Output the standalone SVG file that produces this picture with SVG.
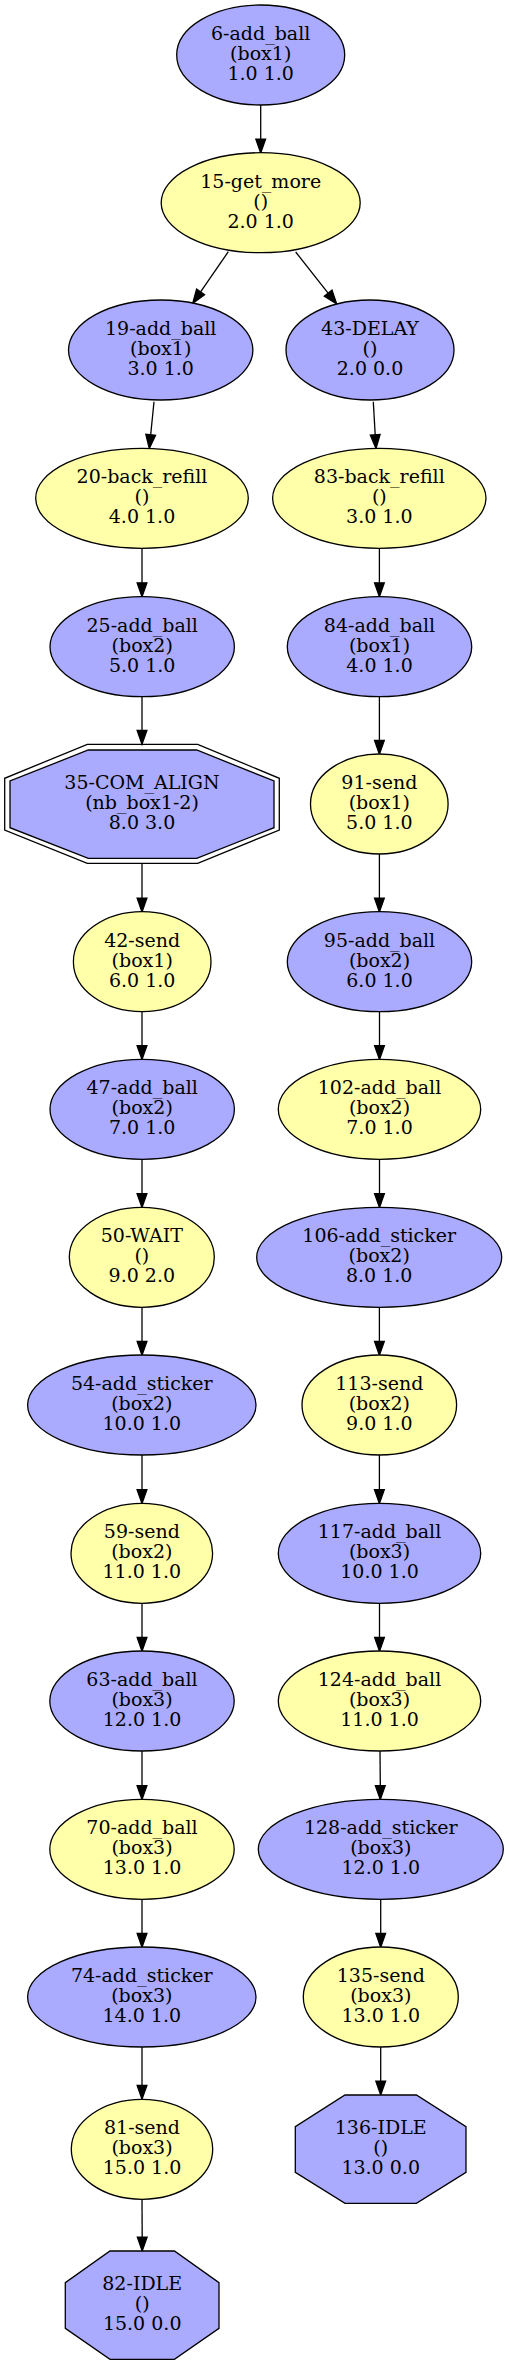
<svg xmlns="http://www.w3.org/2000/svg" width="509" height="2365" viewBox="0 0 509 2365">
<style>
.b{fill:#aaaaff;stroke:#000;stroke-width:1.3}
.y{fill:#ffffaa;stroke:#000;stroke-width:1.3}
.o{fill:none;stroke:#000;stroke-width:1.3}
text{font-family:"DejaVu Serif",serif;font-size:19px;text-anchor:middle;fill:#000}
#edges line{stroke:#000;stroke-width:1.3}
#edges polygon{fill:#000;stroke:#000;stroke-width:1.3}
</style>
<rect width="509" height="2365" fill="#fff"/>
<g id="edges">
<line x1="260.7" y1="105" x2="260.7" y2="139.1"/><polygon points="255.8,139.1 260.7,153 265.6,139.1"/>
<line x1="228.3" y1="251.7" x2="200.6" y2="291.9"/><polygon points="204.6,294.7 192.7,303.3 196.6,289.1"/>
<line x1="295.7" y1="252" x2="328.1" y2="293.1"/><polygon points="324.3,296.1 336.7,304 332.0,290.0"/>
<line x1="154" y1="401.7" x2="150.7" y2="434.8"/><polygon points="155.6,435.3 149.3,448.6 145.8,434.3"/>
<line x1="373.3" y1="401.7" x2="375.2" y2="434.7"/><polygon points="370.3,435.0 376,448.6 380.1,434.4"/>
<line x1="142" y1="548" x2="142" y2="582.8"/><polygon points="137.1,582.8 142,596.7 146.9,582.8"/>
<line x1="379.4" y1="548" x2="379.4" y2="582.8"/><polygon points="374.5,582.8 379.4,596.7 384.3,582.8"/>
<line x1="142" y1="696.7" x2="142" y2="730.4"/><polygon points="137.1,730.4 142,744.3 146.9,730.4"/>
<line x1="379.4" y1="696.7" x2="379.4" y2="740.3"/><polygon points="374.5,740.3 379.4,754.2 384.3,740.3"/>
<line x1="142" y1="863.3" x2="142" y2="898.1"/><polygon points="137.1,898.1 142,912 146.9,898.1"/>
<line x1="379.4" y1="853.8" x2="379.4" y2="898.1"/><polygon points="374.5,898.1 379.4,912 384.3,898.1"/>
<line x1="142" y1="1011.4" x2="142" y2="1045.7"/><polygon points="137.1,1045.7 142,1059.6 146.9,1045.7"/>
<line x1="379.5" y1="1011.4" x2="379.5" y2="1045.7"/><polygon points="374.6,1045.7 379.5,1059.6 384.4,1045.7"/>
<line x1="142" y1="1159" x2="142" y2="1193.7"/><polygon points="137.1,1193.7 142,1207.6 146.9,1193.7"/>
<line x1="379.5" y1="1159" x2="379.5" y2="1193.7"/><polygon points="374.6,1193.7 379.5,1207.6 384.4,1193.7"/>
<line x1="142" y1="1307" x2="142" y2="1341.4"/><polygon points="137.1,1341.4 142,1355.3 146.9,1341.4"/>
<line x1="379.4" y1="1307" x2="379.4" y2="1341.4"/><polygon points="374.5,1341.4 379.4,1355.3 384.3,1341.4"/>
<line x1="142" y1="1454.7" x2="142" y2="1489.7"/><polygon points="137.1,1489.7 142,1503.6 146.9,1489.7"/>
<line x1="379.4" y1="1454.7" x2="379.4" y2="1489.7"/><polygon points="374.5,1489.7 379.4,1503.6 384.3,1489.7"/>
<line x1="142" y1="1603" x2="142" y2="1637.4"/><polygon points="137.1,1637.4 142,1651.3 146.9,1637.4"/>
<line x1="379.5" y1="1603" x2="379.5" y2="1637.4"/><polygon points="374.6,1637.4 379.5,1651.3 384.4,1637.4"/>
<line x1="142" y1="1750.7" x2="142" y2="1785.7"/><polygon points="137.1,1785.7 142,1799.6 146.9,1785.7"/>
<line x1="380" y1="1750.7" x2="380.3" y2="1785.7"/><polygon points="375.4,1785.7 380.3,1799.6 385.2,1785.7"/>
<line x1="142" y1="1899" x2="142" y2="1933.4"/><polygon points="137.1,1933.4 142,1947.3 146.9,1933.4"/>
<line x1="380.7" y1="1899" x2="380.7" y2="1933.4"/><polygon points="375.8,1933.4 380.7,1947.3 385.6,1933.4"/>
<line x1="142" y1="2046.7" x2="142" y2="2085.4"/><polygon points="137.1,2085.4 142,2099.3 146.9,2085.4"/>
<line x1="380.7" y1="2046.7" x2="380.7" y2="2081.1"/><polygon points="375.8,2081.1 380.7,2095 385.6,2081.1"/>
<line x1="142" y1="2199" x2="142.2" y2="2237.1"/><polygon points="137.3,2237.1 142.2,2251 147.1,2237.1"/>
</g>
<g id="n6"><ellipse class="b" cx="260.7" cy="55" rx="84" ry="50"/><text x="260.7" y="40">6-add_ball</text><text x="260.7" y="60">(box1)</text><text x="260.7" y="80">1.0 1.0</text></g>
<g id="n15"><ellipse class="y" cx="260.7" cy="202.7" rx="99.5" ry="50"/><text x="260.7" y="187.7">15-get_more</text><text x="260.7" y="207.7">()</text><text x="260.7" y="227.7">2.0 1.0</text></g>
<g id="n19"><ellipse class="b" cx="160.7" cy="350" rx="92.2" ry="50"/><text x="160.7" y="335">19-add_ball</text><text x="160.7" y="355">(box1)</text><text x="160.7" y="375">3.0 1.0</text></g>
<g id="n43"><ellipse class="b" cx="370" cy="350" rx="84" ry="50"/><text x="370" y="335">43-DELAY</text><text x="370" y="355">()</text><text x="370" y="375">2.0 0.0</text></g>
<g id="n20"><ellipse class="y" cx="142" cy="498.3" rx="106.3" ry="50"/><text x="142" y="483.3">20-back_refill</text><text x="142" y="503.3">()</text><text x="142" y="523.3">4.0 1.0</text></g>
<g id="n83"><ellipse class="y" cx="379.3" cy="498.3" rx="106.7" ry="50"/><text x="379.3" y="483.3">83-back_refill</text><text x="379.3" y="503.3">()</text><text x="379.3" y="523.3">3.0 1.0</text></g>
<g id="n25"><ellipse class="b" cx="142.2" cy="646.7" rx="92.2" ry="50"/><text x="142.2" y="631.7">25-add_ball</text><text x="142.2" y="651.7">(box2)</text><text x="142.2" y="671.7">5.0 1.0</text></g>
<g id="n84"><ellipse class="b" cx="379.5" cy="646.7" rx="92.2" ry="50"/><text x="379.5" y="631.7">84-add_ball</text><text x="379.5" y="651.7">(box1)</text><text x="379.5" y="671.7">4.0 1.0</text></g>
<g id="n35"><polygon class="b" points="88.3,750 196.7,750 274,781 274,827.7 196.7,858.3 88.3,858.3 10,827.7 10,781"/><polygon class="o" points="87.3,744.3 197.7,744.3 279.3,778.3 279.3,830 197.7,863.3 87.3,863.3 4.7,830 4.7,778.3"/><text x="142" y="788.8">35-COM_ALIGN</text><text x="142" y="808.8">(nb_box1-2)</text><text x="142" y="828.8">8.0 3.0</text></g>
<g id="n91"><ellipse class="y" cx="379.3" cy="804" rx="68.8" ry="50"/><text x="379.3" y="789">91-send</text><text x="379.3" y="809">(box1)</text><text x="379.3" y="829">5.0 1.0</text></g>
<g id="n42"><ellipse class="y" cx="142.2" cy="961.7" rx="68.8" ry="50"/><text x="142.2" y="946.7">42-send</text><text x="142.2" y="966.7">(box1)</text><text x="142.2" y="986.7">6.0 1.0</text></g>
<g id="n95"><ellipse class="b" cx="379.5" cy="961.7" rx="92.2" ry="50"/><text x="379.5" y="946.7">95-add_ball</text><text x="379.5" y="966.7">(box2)</text><text x="379.5" y="986.7">6.0 1.0</text></g>
<g id="n47"><ellipse class="b" cx="142.2" cy="1109.3" rx="92.2" ry="50"/><text x="142.2" y="1094.3">47-add_ball</text><text x="142.2" y="1114.3">(box2)</text><text x="142.2" y="1134.3">7.0 1.0</text></g>
<g id="n102"><ellipse class="y" cx="379.5" cy="1109.3" rx="101.2" ry="50"/><text x="379.5" y="1094.3">102-add_ball</text><text x="379.5" y="1114.3">(box2)</text><text x="379.5" y="1134.3">7.0 1.0</text></g>
<g id="n50"><ellipse class="y" cx="141.8" cy="1257.3" rx="72.5" ry="50"/><text x="141.8" y="1242.3">50-WAIT</text><text x="141.8" y="1262.3">()</text><text x="141.8" y="1282.3">9.0 2.0</text></g>
<g id="n106"><ellipse class="b" cx="379.2" cy="1257.3" rx="122.5" ry="50"/><text x="379.2" y="1242.3">106-add_sticker</text><text x="379.2" y="1262.3">(box2)</text><text x="379.2" y="1282.3">8.0 1.0</text></g>
<g id="n54"><ellipse class="b" cx="141.8" cy="1405" rx="114.2" ry="50"/><text x="141.8" y="1390">54-add_sticker</text><text x="141.8" y="1410">(box2)</text><text x="141.8" y="1430">10.0 1.0</text></g>
<g id="n113"><ellipse class="y" cx="379.3" cy="1405" rx="77.3" ry="50"/><text x="379.3" y="1390">113-send</text><text x="379.3" y="1410">(box2)</text><text x="379.3" y="1430">9.0 1.0</text></g>
<g id="n59"><ellipse class="y" cx="141.8" cy="1553.3" rx="70.8" ry="50"/><text x="141.8" y="1538.3">59-send</text><text x="141.8" y="1558.3">(box2)</text><text x="141.8" y="1578.3">11.0 1.0</text></g>
<g id="n117"><ellipse class="b" cx="379.5" cy="1553.3" rx="101.2" ry="50"/><text x="379.5" y="1538.3">117-add_ball</text><text x="379.5" y="1558.3">(box3)</text><text x="379.5" y="1578.3">10.0 1.0</text></g>
<g id="n63"><ellipse class="b" cx="142" cy="1701" rx="92.2" ry="50"/><text x="142" y="1686">63-add_ball</text><text x="142" y="1706">(box3)</text><text x="142" y="1726">12.0 1.0</text></g>
<g id="n124"><ellipse class="y" cx="379.5" cy="1701" rx="101.2" ry="50"/><text x="379.5" y="1686">124-add_ball</text><text x="379.5" y="1706">(box3)</text><text x="379.5" y="1726">11.0 1.0</text></g>
<g id="n70"><ellipse class="y" cx="142" cy="1849.3" rx="92.2" ry="50"/><text x="142" y="1834.3">70-add_ball</text><text x="142" y="1854.3">(box3)</text><text x="142" y="1874.3">13.0 1.0</text></g>
<g id="n128"><ellipse class="b" cx="380.8" cy="1849.3" rx="122.5" ry="50"/><text x="380.8" y="1834.3">128-add_sticker</text><text x="380.8" y="1854.3">(box3)</text><text x="380.8" y="1874.3">12.0 1.0</text></g>
<g id="n74"><ellipse class="b" cx="141.8" cy="1997" rx="114.2" ry="50"/><text x="141.8" y="1982">74-add_sticker</text><text x="141.8" y="2002">(box3)</text><text x="141.8" y="2022">14.0 1.0</text></g>
<g id="n135"><ellipse class="y" cx="380.8" cy="1997" rx="77.5" ry="50"/><text x="380.8" y="1982">135-send</text><text x="380.8" y="2002">(box3)</text><text x="380.8" y="2022">13.0 1.0</text></g>
<g id="n81"><ellipse class="y" cx="142" cy="2149.3" rx="70.7" ry="50"/><text x="142" y="2134.3">81-send</text><text x="142" y="2154.3">(box3)</text><text x="142" y="2174.3">15.0 1.0</text></g>
<g id="n136"><polygon class="b" points="345,2095 416.4,2095 466,2126.7 466,2172.3 416.4,2203.3 345,2203.3 295.3,2172.3 295.3,2126.7"/><text x="380.7" y="2134.2">136-IDLE</text><text x="380.7" y="2154.2">()</text><text x="380.7" y="2174.2">13.0 0.0</text></g>
<g id="n82"><polygon class="b" points="110,2251 174.4,2251 219,2282.7 219,2328.3 174.4,2359.3 110,2359.3 65.3,2328.3 65.3,2282.7"/><text x="142.2" y="2290.2">82-IDLE</text><text x="142.2" y="2310.2">()</text><text x="142.2" y="2330.2">15.0 0.0</text></g>
</svg>
